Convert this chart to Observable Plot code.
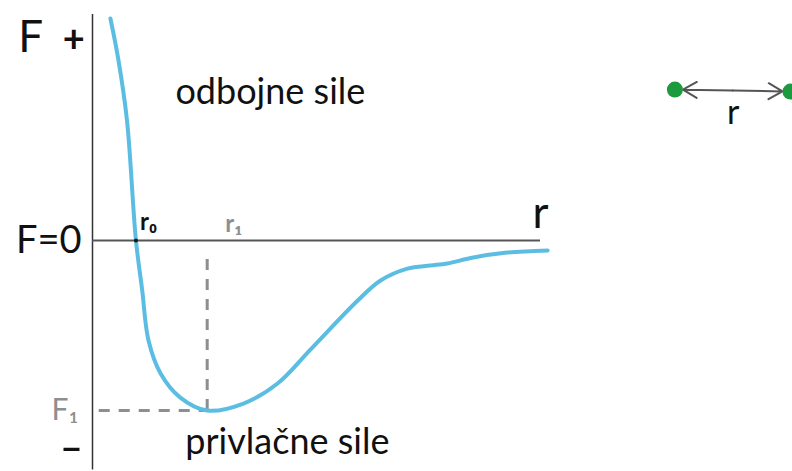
<!DOCTYPE html>
<html>
<head>
<meta charset="utf-8">
<script src="https://cdn.jsdelivr.net/npm/d3@7"></script>
<script src="https://cdn.jsdelivr.net/npm/@observablehq/plot@0.6"></script>
<style>
  html, body { margin: 0; padding: 0; background: #fff; }
  #chart svg { display: block; }
</style>
</head>
<body>
<div id="chart"></div>
<script>
// Force F between two particles as a function of their separation r
const curveR = [0.40, 0.58, 0.77, 0.97, 1.11, 1.25, 1.52, 1.96, 2.56, 3.37, 4.13, 4.87, 5.92, 6.43, 7.03, 7.54, 7.92, 8.50, 9.26, 10.16];
const curveF = [1.306, 1.06, 0.706, 0.0, -0.294, -0.588, -0.782, -0.924, -1.0, -0.959, -0.841, -0.640, -0.353, -0.235, -0.165, -0.147, -0.135, -0.100, -0.071, -0.059];

// Key points: equilibrium distance r0, distance r1 of strongest attraction, force F1 there
const r0 = 0.97;
const r1 = 2.56;
const F1 = -1.0;

// Labels
const forceLabel = "F";
const plusLabel = "+";
const minusLabel = "\u2212";
const zeroLabel = "F=0";
const r0Label = "r₀";
const r1Label = "r₁";
const F1Label = "F₁";
const rLabel = "r";
const repulsiveLabel = "odbojne sile";
const attractiveLabel = "privlačne sile";

// Two particles at distance r (inset sketch)
const particleR = [13.0, 15.58];
const particleF = [0.888, 0.876];

const curve = curveR.map((r, i) => ({r, F: curveF[i]}));
const particles = particleR.map((r, i) => ({r, F: particleF[i]}));
// double-headed distance arrow: two arrows from the midpoint out to each particle
const mid = {r: d3.mean(particleR), F: d3.mean(particleF)};
const halves = particles.map(p => ({r1: mid.r, F1: mid.F, r2: p.r, F2: p.F}));

const font = "Lato, 'Open Sans', sans-serif";
const ink = "#111";
const grey = "#8a8f91";

const chart = Plot.plot({
  width: 792,
  height: 471,
  margin: 0,
  style: {fontFamily: font, background: "#fff", overflow: "visible"},
  x: {domain: [0, 10], range: [92, 540], axis: null},
  y: {domain: [-1, 0], range: [410, 240], axis: null},
  marks: [
    // vertical force axis
    Plot.ruleX([0], {y1: -1.35, y2: 1.33, stroke: "#333", strokeWidth: 1.5}),
    // r axis at F = 0
    Plot.ruleY([0], {x1: 0, x2: 10, stroke: "#555", strokeWidth: 2}),
    // guides to the minimum
    Plot.ruleX([r1], {y1: F1, y2: -0.06, stroke: grey, strokeWidth: 3, strokeDasharray: "11,9"}),
    Plot.ruleY([F1], {x1: 0.15, x2: r1, stroke: grey, strokeWidth: 3, strokeDasharray: "11,9"}),
    // force curve
    Plot.line(curve, {x: "r", y: "F", curve: "catmull-rom", stroke: "#5cbde3", strokeWidth: 4, strokeLinecap: "round"}),
    Plot.dot([{r: r0, F: 0}], {x: "r", y: "F", r: 2, fill: ink}),
    // axis labels
    Plot.text([forceLabel], {x: -1.38, y: 1.19, fontSize: 44, fill: ink}),
    Plot.text([plusLabel], {x: -0.42, y: 1.18, fontSize: 38, fontWeight: "bold", fill: ink}),
    Plot.text([zeroLabel], {x: 0, y: 0, dx: -11, textAnchor: "end", fontSize: 38, fill: ink}),
    Plot.text([minusLabel], {x: -0.47, y: -1.235, fontSize: 36, fontWeight: "bold", fill: ink}),
    Plot.text([F1Label], {x: 0, y: F1, dx: -14, textAnchor: "end", fontSize: 30, fill: grey}),
    Plot.text([r0Label], {x: r0, y: 0, dx: 4, dy: -18, textAnchor: "start", fontSize: 24, fontWeight: "bold", fill: ink}),
    Plot.text([r1Label], {x: r1, y: 0, dx: 18, dy: -16, textAnchor: "start", fontSize: 24, fontWeight: "bold", fill: grey}),
    Plot.text([rLabel], {x: 10, y: 0, dy: -27, fontSize: 44, fill: ink}),
    // region labels
    Plot.text([repulsiveLabel], {x: 3.97, y: 0.87, fontSize: 36, fill: ink}),
    Plot.text([attractiveLabel], {x: 4.35, y: -1.19, fontSize: 36, fill: ink}),
    // inset: two particles and their distance
    Plot.arrow(halves, {x1: "r1", y1: "F1", x2: "r2", y2: "F2", stroke: "#555", strokeWidth: 2, headLength: 12, insetEnd: 8}),
    Plot.dot(particles, {x: "r", y: "F", r: 8, fill: "#1e9a3e"}),
    Plot.text([rLabel], {x: 14.3, y: 0.75, fontSize: 34, fill: ink})
  ]
});

document.getElementById("chart").append(chart);
</script>
</body>
</html>
